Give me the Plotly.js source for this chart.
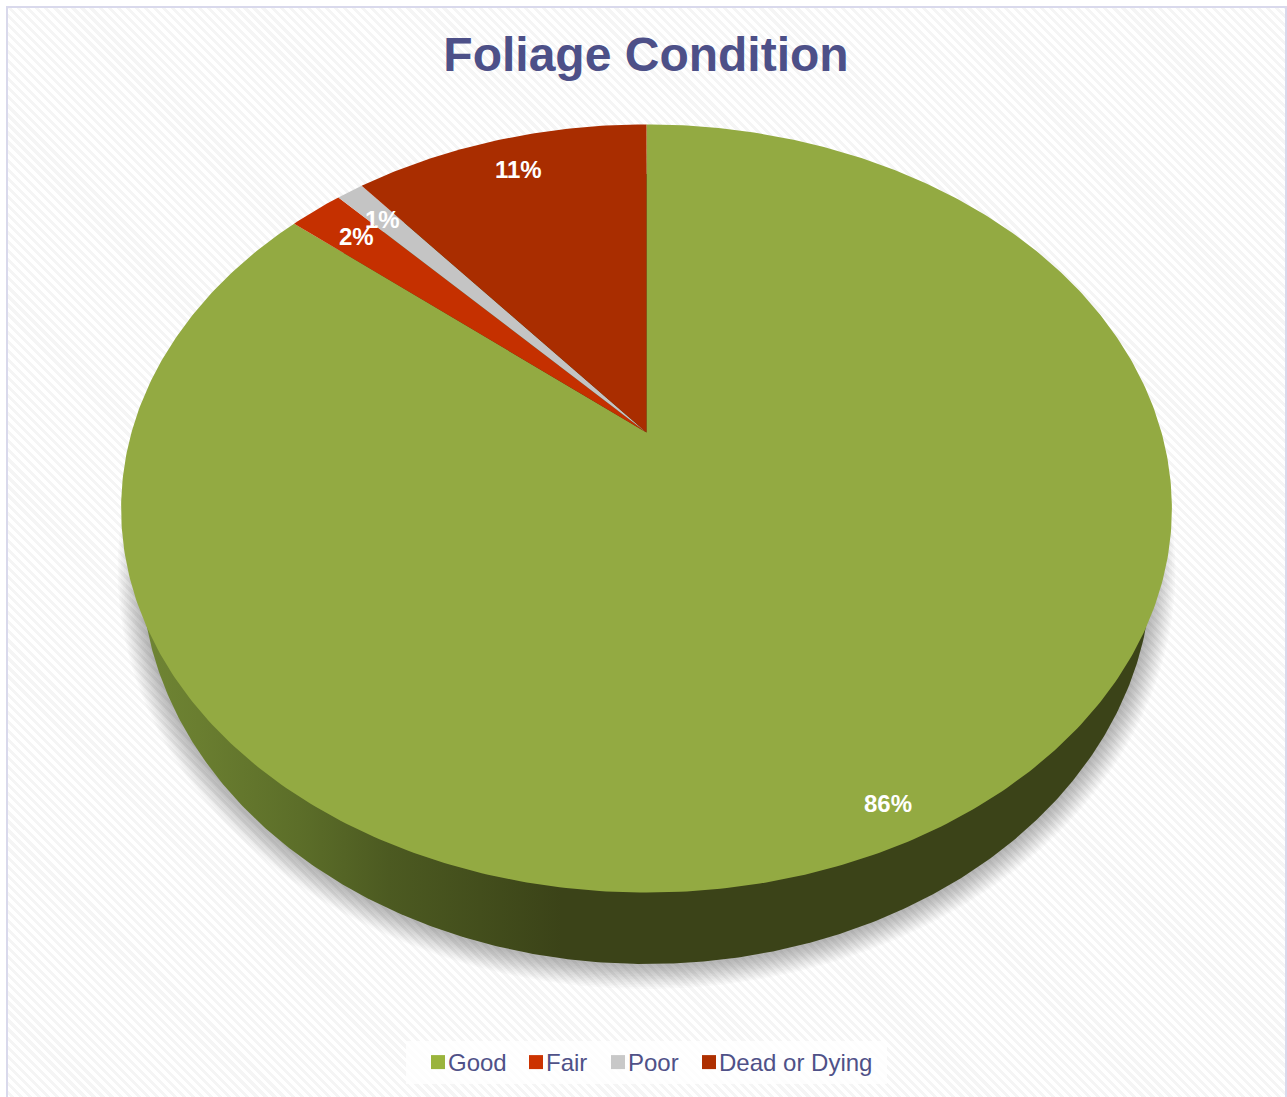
<!DOCTYPE html>
<html>
<head>
<meta charset="utf-8">
<script src="https://cdn.plot.ly/plotly-3.0.1.min.js"></script>
<style>
html,body{margin:0;padding:0;background:#fff;width:1287px;height:1097px;overflow:hidden}
#frame{position:absolute;left:6px;top:6px;width:1277px;height:1200px;border:2px solid #d9d9ec;
background:repeating-linear-gradient(45deg,#ffffff 0,#ffffff 3.4px,#f5f5f5 3.4px,#f5f5f5 6.4px)}
#chart{position:absolute;left:0;top:0;width:1287px;height:1097px}
</style>
</head>
<body>
<div id="frame"></div>
<div id="chart"></div>
<script>
// ---- data ----
const categories = ['Good', 'Fair', 'Poor', 'Dead or Dying'];
const percents = [86, 2, 1, 11];
const sliceColors = ['#93aa42', '#c53000', '#c4c4c4', '#a92d00'];
const legendColors = ['#9ab43c', '#cc3300', '#c8c8c8', '#ae2f00'];
const chartTitle = 'Foliage Condition';

// ---- geometry of the tilted disc (pixel-valued axes) ----
const apex = {x: 646.5, y: 432.5}, tilt = 0.1979, scaleU = 515, scaleV = 369;
const wall = {x: 646.5, y: 569, rx: 505, ry: 395};
const labelAt = [[888, 803], [356, 236], [382, 219], [518, 169]];
const legendTextLeft = [448, 546, 628, 719];

function rimPoint(fraction) {
  const a = fraction * 2 * Math.PI, u = Math.sin(a), v = Math.cos(a), d = 1 + tilt * v;
  return [apex.x + scaleU * u / d, apex.y - scaleV * v / d];
}
function ellipse(cx, cy, rx, ry) {
  const xs = [], ys = [];
  for (let i = 0; i <= 720; i++) {
    const a = i / 720 * 2 * Math.PI;
    xs.push(cx + rx * Math.cos(a)); ys.push(cy + ry * Math.sin(a));
  }
  return {x: xs, y: ys};
}

const traces = [];
// soft shadow under the wall
for (let k = 15; k >= 1; k--) {
  const e = ellipse(wall.x, wall.y + 1, wall.rx + k * 1.6, wall.ry + k * 1.6);
  traces.push({x: e.x, y: e.y, mode: 'lines', line: {width: 0}, fill: 'toself',
    fillcolor: 'rgba(0,0,0,0.02)', hoverinfo: 'skip', showlegend: false});
}
// side wall
const w = ellipse(wall.x, wall.y, wall.rx, wall.ry);
traces.push({x: w.x, y: w.y, mode: 'lines', line: {width: 0}, fill: 'toself',
  fillgradient: {type: 'horizontal', colorscale: [[0, '#6f8534'], [0.056, '#6a7e30'], [0.156, '#5c6e29'], [0.245, '#4c5a21'], [0.335, '#434e1c'], [0.416, '#3b4318'], [1, '#3b4318']]},
  hoverinfo: 'skip', showlegend: false});
// top face: one wedge per category
let running = 0;
percents.forEach((p, i) => {
  const xs = [apex.x], ys = [apex.y], total = percents.reduce((s, q) => s + q, 0);
  const n = Math.max(8, Math.round(p * 6));
  for (let j = 0; j <= n; j++) {
    const pt = rimPoint((running + p * j / n) / total);
    xs.push(pt[0]); ys.push(pt[1]);
  }
  xs.push(apex.x); ys.push(apex.y);
  running += p;
  traces.push({x: xs, y: ys, mode: 'lines', line: {width: 0}, fill: 'toself',
    fillcolor: sliceColors[i], name: categories[i], hoverinfo: 'name+text', text: p + '%', showlegend: false});
});
// legend keys
categories.forEach((c, i) => {
  traces.push({x: [null], y: [null], mode: 'markers', name: c,
    marker: {symbol: 'square', size: 14, color: legendColors[i]}, showlegend: true});
});

const layout = {
  width: 1287, height: 1097,
  margin: {l: 0, r: 0, t: 0, b: 0},
  paper_bgcolor: 'rgba(0,0,0,0)', plot_bgcolor: 'rgba(0,0,0,0)',
  title: {text: chartTitle, x: 646 / 1287, xanchor: 'center', y: 1 - 54 / 1097, yanchor: 'middle',
    font: {family: 'Liberation Sans, Arial, sans-serif', size: 48, weight: 700, color: '#4d5088'}},
  xaxis: {range: [0, 1287], visible: false, fixedrange: true},
  yaxis: {range: [1097, 0], visible: false, fixedrange: true},
  showlegend: true,
  legend: {orientation: 'h', x: 646 / 1287, xanchor: 'center', y: 1 - 1040 / 1097, yanchor: 'top',
    bgcolor: 'rgba(0,0,0,0)', itemclick: false, itemdoubleclick: false, traceorder: 'normal',
    font: {family: 'Liberation Sans, Arial, sans-serif', size: 24, color: '#4f5188'}},
  shapes: [{type: 'rect', xref: 'x', yref: 'y', x0: 406, x1: 887, y0: 1041, y1: 1084,
    fillcolor: 'rgba(255,255,255,0.75)', line: {width: 0}, layer: 'below'}],
  annotations: percents.map((p, i) => ({
    x: labelAt[i][0], y: labelAt[i][1], xref: 'x', yref: 'y', text: p + '%', showarrow: false,
    font: {family: 'Liberation Sans, Arial, sans-serif', size: 24, weight: 700, color: '#ffffff'}
  }))
};
Plotly.newPlot('chart', traces, layout, {displayModeBar: false, responsive: false}).then(() => {
  // tighten the legend entries: keys close to their labels, as in the reference
  document.querySelectorAll('#chart .legend .traces').forEach((g, i) => {
    const left = g.querySelector('.legendtext').getBoundingClientRect().left;
    const m = /translate\(\s*([-\d.]+)[ ,]+([-\d.]+)/.exec(g.getAttribute('transform') || '');
    const tx = m ? +m[1] : 0, ty = m ? +m[2] : 0;
    g.setAttribute('transform', 'translate(' + (tx + legendTextLeft[i] - left) + ',' + ty + ')');
    g.querySelector('.legendsymbols').setAttribute('transform', 'translate(10,0)');
  });
  const clip = document.querySelector('#chart .legend .scrollbox');
  if (clip) clip.removeAttribute('clip-path');
});
</script>
</body>
</html>
